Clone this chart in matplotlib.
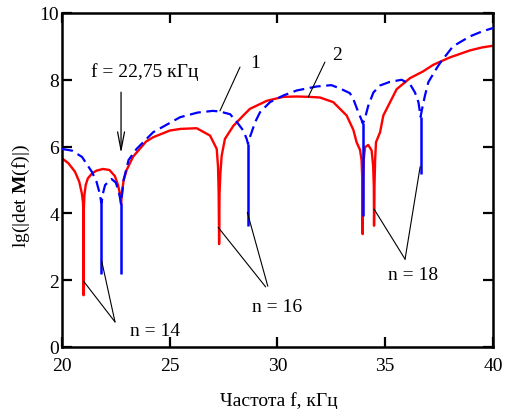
import matplotlib
matplotlib.use('Agg')
import matplotlib.pyplot as plt

# ---- data ----
red_f = [20.0, 20.3, 20.6, 20.8, 20.92, 20.97, 20.99, 21.0, 21.01, 21.04, 21.1, 21.2, 21.4,
         21.6, 21.9, 22.2, 22.45, 22.6, 22.7, 22.74, 22.78, 22.86, 23.0, 23.3, 23.9, 24.23,
         25.0, 25.5, 26.25, 26.87, 27.18, 27.24, 27.27, 27.29, 27.31, 27.35, 27.41, 27.56,
         27.95, 28.41, 28.72, 29.5, 30.27, 30.9, 31.43, 31.97, 32.59, 33.21, 33.52, 33.67,
         33.83, 33.9, 33.93, 33.95, 33.97, 34.0, 34.06, 34.21, 34.37, 34.44, 34.47, 34.48,
         34.5, 34.53, 34.57, 34.76, 34.91, 35.53, 36.15, 36.75, 37.23, 38.0, 38.93, 39.5, 40.0]
red_y = [5.65, 5.5, 5.25, 4.95, 4.6, 4.35, 4.1, 1.55, 4.1, 4.55, 4.85, 5.05, 5.2,
         5.28, 5.33, 5.3, 5.12, 4.85, 4.55, 4.28, 4.6, 5.0, 5.3, 5.7, 6.15, 6.28,
         6.48, 6.53, 6.55, 6.33, 5.93, 5.4, 4.6, 3.08, 4.6, 5.2, 5.73, 6.23,
         6.62, 6.93, 7.13, 7.37, 7.49, 7.5, 7.49, 7.47, 7.33, 6.93, 6.5, 6.13,
         5.9, 5.6, 5.1, 3.38, 5.1, 5.6, 5.98, 6.05, 5.88, 5.4, 4.8, 3.63,
         4.8, 5.6, 6.13, 6.43, 6.93, 7.72, 8.05, 8.25, 8.45, 8.67, 8.88, 8.97, 9.02]

blue_f = [20.0, 20.46, 20.93, 21.39, 21.6, 21.75, 21.83, 21.9, 22.0, 22.3, 22.5, 22.65,
          22.74, 22.8, 22.86, 23.09, 23.46, 24.23, 25.48, 26.3, 27.0, 27.33, 27.8, 28.1,
          28.41, 28.57, 28.63, 28.7, 28.8, 28.96, 29.19, 29.65, 30.27, 30.89, 31.82, 32.5,
          32.9, 33.36, 33.52, 33.75, 33.9, 33.95, 34.0, 34.06, 34.21, 34.45, 34.76, 35.22,
          35.76, 36.15, 36.38, 36.54, 36.61, 36.64, 36.7, 36.84, 37.0, 37.39, 37.54, 38.14,
          38.93, 39.5, 40.0]
blue_y = [5.93, 5.88, 5.69, 5.24, 4.95, 4.6, 4.3, 4.6, 4.85, 5.03, 4.92, 4.6,
          4.3, 4.65, 5.0, 5.6, 5.93, 6.43, 6.88, 7.02, 7.07, 7.05, 6.97, 6.75,
          6.48, 6.23, 6.08, 6.25, 6.43, 6.73, 7.03, 7.33, 7.53, 7.68, 7.8, 7.84,
          7.74, 7.6, 7.42, 7.03, 6.8, 6.7, 6.75, 6.85, 7.22, 7.62, 7.83, 7.94,
          8.0, 7.87, 7.62, 7.33, 7.03, 6.89, 7.1, 7.52, 7.93, 8.35, 8.5, 9.0,
          9.3, 9.45, 9.55]

dip_f = [21.83, 22.74, 28.63, 33.95, 36.64]
dip_top = [4.3, 4.3, 6.08, 6.7, 6.89]
dip_bottom = [2.18, 2.18, 3.63, 3.93, 5.18]

x_ticks = [20, 25, 30, 35, 40]
y_ticks = [0, 2, 4, 6, 8, 10]

plt.rcParams['font.family'] = ['Liberation Serif', 'DejaVu Serif']
plt.rcParams['mathtext.fontset'] = 'custom'
plt.rcParams['mathtext.rm'] = 'Liberation Serif'
plt.rcParams['mathtext.bf'] = 'Liberation Serif:bold'

W, H = 509, 410
fig = plt.figure(figsize=(W / 100, H / 100), dpi=100)
ax = fig.add_axes([62 / W, 1 - 348 / H, (493 - 62) / W, (348 - 14) / H])

ax.plot(red_f, red_y, color='#ff0000', lw=1.7, zorder=2)
ax.plot(blue_f, blue_y, color='#0000ff', lw=1.6, linestyle=(0, (5, 2.5)), zorder=3)
ax.vlines(dip_f, dip_bottom, dip_top, color='#0000ff', lw=1.8, zorder=3)

ax.set_xlim(20, 40)
ax.set_ylim(0, 10)
ax.set_xticks(x_ticks)
ax.set_yticks(y_ticks)
ax.tick_params(direction='in', length=7, width=1.6, top=True, right=True,
               labelsize=14, colors='black')
ax.tick_params(axis='x', pad=7)
ax.tick_params(axis='y', pad=2)
for s in ax.spines.values():
    s.set_linewidth(1.8)

fs = 14
lk = dict(arrowstyle='-', color='black', lw=0.8, shrinkA=0, shrinkB=0)

# f = 22,75 kHz arrow
ax.text(23.85, 8.26, 'f = 22,75 кГц', fontsize=fs, ha='center', va='center')
ax.annotate('', xy=(22.74, 5.8), xytext=(22.74, 7.63),
            arrowprops=dict(arrowstyle='->,head_length=1.3,head_width=0.25',
                            color='black', lw=0.9, shrinkA=0, shrinkB=0))

# curve labels
ax.text(28.96, 8.53, '1', fontsize=fs, ha='center', va='center')
ax.annotate('', xy=(27.33, 7.07), xytext=(28.26, 8.38), arrowprops=lk)
ax.text(32.78, 8.77, '2', fontsize=fs, ha='center', va='center')
ax.annotate('', xy=(31.43, 7.49), xytext=(32.2, 8.53), arrowprops=lk)

# n = 14
ax.text(24.32, 0.5, 'n = 14', fontsize=fs, ha='center', va='center')
ax.annotate('', xy=(20.99, 1.98), xytext=(22.46, 0.75), arrowprops=lk)
ax.annotate('', xy=(21.84, 2.58), xytext=(22.46, 0.75), arrowprops=lk)

# n = 16
ax.text(29.98, 1.2, 'n = 16', fontsize=fs, ha='center', va='center')
ax.annotate('', xy=(27.25, 3.58), xytext=(29.45, 1.8), arrowprops=lk)
ax.annotate('', xy=(28.6, 4.03), xytext=(29.55, 1.82), arrowprops=lk)

# n = 18
ax.text(36.3, 2.16, 'n = 18', fontsize=fs, ha='center', va='center')
ax.annotate('', xy=(34.48, 4.13), xytext=(35.92, 2.63), arrowprops=lk)
ax.annotate('', xy=(36.62, 5.4), xytext=(35.92, 2.63), arrowprops=lk)

fig.text(279 / W, 1 - 401 / H, 'Частота f, кГц', fontsize=fs, ha='center', va='center')
fig.text(21 / W, 1 - 196 / H, r'lg(|det $\mathbf{M}$(f)|)', fontsize=fs,
         ha='center', va='center', rotation=90)

fig.savefig('out.png', dpi=100)
